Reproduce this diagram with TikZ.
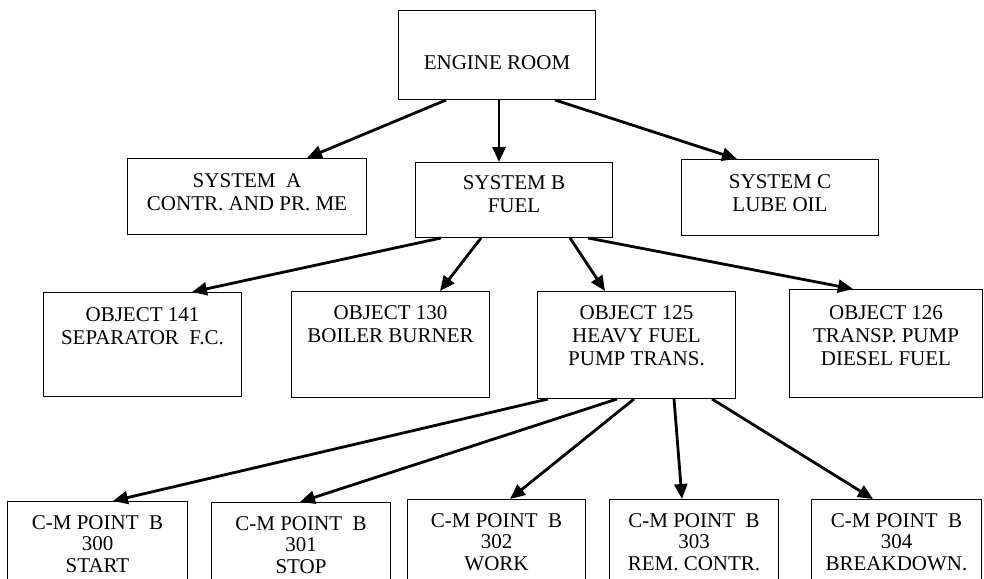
\documentclass[tikz,border=0pt]{standalone}
\usepackage{fontspec}
\setmainfont{Liberation Serif}
\usetikzlibrary{arrows.meta}
\tikzset{
  box/.style={draw, line width=1pt, inner sep=0pt, anchor=north west, rectangle},
  txt/.style={inner sep=0pt, anchor=north, align=center, font=\fontsize{21}{23}\selectfont},
  txtb/.style={inner sep=0pt, anchor=north, align=center, font=\fontsize{21}{21.5}\selectfont},
  arr/.style={line width=2.8pt, -{Triangle[length=15pt,width=13pt]}}
}
\begin{document}
\begin{tikzpicture}[x=1pt,y=-1pt]
\clip (0,0) rectangle (984,578);
\fill[white] (0,0) rectangle (984,578);
% boxes
\node[box, minimum width=197pt, minimum height=89pt] (eng) at (398,10) {};
\node[box, minimum width=239pt, minimum height=76pt] (sa) at (127,158) {};
\node[box, minimum width=197pt, minimum height=75pt] (sb) at (415,162) {};
\node[box, minimum width=197pt, minimum height=76pt] (sc) at (681,159) {};
\node[box, minimum width=198pt, minimum height=104pt] (o141) at (43,292) {};
\node[box, minimum width=198pt, minimum height=106pt] (o130) at (291,291) {};
\node[box, minimum width=198pt, minimum height=107pt] (o125) at (537,291) {};
\node[box, minimum width=193pt, minimum height=108pt] (o126) at (789,289) {};
\node[box, minimum width=180pt, minimum height=100pt] (c300) at (7,501) {};
\node[box, minimum width=179pt, minimum height=100pt] (c301) at (211,502) {};
\node[box, minimum width=178pt, minimum height=100pt] (c302) at (407,499) {};
\node[box, minimum width=169pt, minimum height=100pt] (c303) at (609,499) {};
\node[box, minimum width=170pt, minimum height=100pt] (c304) at (811,499) {};
% texts
\node[txt] (teng) at ([yshift=-45pt]eng.north) {ENGINE ROOM};
\node[txt] (tsa) at ([yshift=-15pt]sa.north) {SYSTEM\ \ A\\CONTR. AND PR. ME};
\node[txt] (tsb) at ([yshift=-13pt]sb.north) {SYSTEM B\\FUEL};
\node[txt] (tsc) at ([yshift=-15pt]sc.north) {SYSTEM C\\LUBE OIL};
\node[txt] (to141) at ([yshift=-15pt]o141.north) {OBJECT 141\\SEPARATOR\ \ F.C.};
\node[txt] (to130) at ([yshift=-14pt]o130.north) {OBJECT 130\\BOILER BURNER};
\node[txt] (to125) at ([yshift=-14pt]o125.north) {OBJECT 125\\HEAVY FUEL\\PUMP TRANS.};
\node[txt] (to126) at ([yshift=-16pt]o126.north) {OBJECT 126\\TRANSP. PUMP\\DIESEL FUEL};
\node[txtb] (tc300) at ([yshift=-14pt]c300.north) {C-M POINT\ \ B\\300\\START};
\node[txtb] (tc301) at ([yshift=-14pt]c301.north) {C-M POINT\ \ B\\301\\STOP};
\node[txtb] (tc302) at ([yshift=-14pt]c302.north) {C-M POINT\ \ B\\302\\WORK};
\node[txtb] (tc303) at ([yshift=-14pt]c303.north) {C-M POINT\ \ B\\303\\REM. CONTR.};
\node[txtb] (tc304) at ([yshift=-14pt]c304.north) {C-M POINT\ \ B\\304\\BREAKDOWN.};
% connectors
\draw[arr] ([xshift=48pt]eng.south west) -- ([xshift=180pt]sa.north west);
\draw[arr] ([xshift=101pt]eng.south west) -- ([xshift=84pt]sb.north west);
\draw[arr] ([xshift=157pt]eng.south west) -- ([xshift=56pt]sc.north west);
\draw[arr] ([xshift=26pt]sb.south west) -- ([xshift=149pt]o141.north west);
\draw[arr] ([xshift=66pt]sb.south west) -- ([xshift=149pt]o130.north west);
\draw[arr] ([xshift=155pt]sb.south west) -- ([xshift=68pt]o125.north west);
\draw[arr] ([xshift=173pt]sb.south west) -- ([xshift=64pt]o126.north west);
\draw[arr] ([xshift=11pt]o125.south west) -- ([xshift=106pt]c300.north west);
\draw[arr] ([xshift=80pt]o125.south west) -- ([xshift=89pt]c301.north west);
\draw[arr] ([xshift=97pt]o125.south west) -- ([xshift=103pt]c302.north west);
\draw[arr] ([xshift=137pt]o125.south west) -- ([xshift=73pt]c303.north west);
\draw[arr] ([xshift=175pt]o125.south west) -- ([xshift=62pt]c304.north west);
\end{tikzpicture}
\end{document}
